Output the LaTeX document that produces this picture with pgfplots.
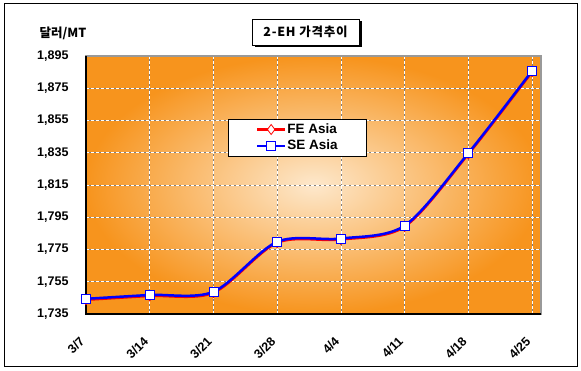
\documentclass[border=0pt]{standalone}
\usepackage{pgfplots}
\pgfplotsset{compat=1.18}
\usepackage{fontspec}
\setmainfont{Liberation Sans}
\newfontfamily\kr{Noto Sans CJK KR}
\definecolor{org}{HTML}{F7941D}
\definecolor{cream}{HTML}{FDE8CC}
\definecolor{lred}{HTML}{FF0000}
\definecolor{lblue}{HTML}{0000FF}
\begin{document}
\begin{tikzpicture}
\path[use as bounding box] (0,0) rectangle (581pt,371pt);
\fill[white] (0,0) rectangle (581pt,371pt);
\draw[black, line width=1pt] (4pt,4pt) rectangle (577pt,367pt);
\begin{axis}[
  at={(86pt,57pt)}, anchor=south west, scale only axis,
  width=455pt, height=258pt,
  xmin=0, xmax=7.14, ymin=1735, ymax=1895,
  xtick={0,...,7},
  xticklabels={3/7,3/14,3/21,3/28,4/4,4/11,4/18,4/25},
  ytick={1735,1755,...,1895},
  /pgf/number format/.cd, fixed, precision=0, 1000 sep={,}, assume math mode=true,
  /pgfplots/.cd,
  major tick length=0pt,
  ticklabel style={font=\fontsize{12.5}{14}\selectfont\bfseries},
  xticklabel style={rotate=45, anchor=east, xshift=-17pt, yshift=-15pt},
  yticklabel style={xshift=-14pt},
  grid=major,
  major grid style={gray, line width=0.8pt, postaction={draw, white, dash pattern=on 3pt off 2pt}},
  axis line style={draw=gray!80, line width=1.5pt},
  axis background/.style={shading=radial, inner color=cream, outer color=org},
  clip=false,
  legend style={at={(0.311,0.756)}, anchor=north west, draw=black, fill=white,
    line width=0.8pt, font=\fontsize{13.5}{15}\selectfont\bfseries,
    inner xsep=28pt, inner ysep=2pt, row sep=0pt,
    nodes={inner xsep=1pt, inner ysep=2.5pt}},
  legend cell align=left,
  legend image code/.code={\draw[mark repeat=2,mark phase=2] plot coordinates {(0pt,0pt) (14pt,0pt) (28pt,0pt)};},
]
\addplot[lred, line width=2.5pt, smooth, mark=diamond*, mark size=5pt,
  mark options={fill=white, draw=lred, line width=0.8pt}]
  coordinates {(0,1743.8) (1,1746.2) (2,1748.2) (3,1779.2) (4,1781.2) (5,1789.2) (6,1834.2) (7,1885.2)};
\addlegendentry{FE Asia}
\addplot[lblue, line width=2.5pt, smooth, mark=square*, mark size=4.5pt,
  mark options={fill=white, draw=lblue, line width=0.8pt}]
  coordinates {(0,1744.4) (1,1746.8) (2,1748.8) (3,1779.8) (4,1781.8) (5,1789.8) (6,1834.8) (7,1885.8)};
\addlegendentry{SE Asia}
\draw[black, line width=1.2pt] (rel axis cs:0,1) -- (rel axis cs:0,0) -- (rel axis cs:1,0);
\end{axis}
\node[font=\kr\bfseries\fontsize{12.5}{14}\selectfont] at (63pt,338pt) {달러/MT};
\fill[black] (254.5pt,324pt) rectangle (361.5pt,350pt);
\node[draw=black, fill=white, line width=0.8pt, minimum width=107pt, minimum height=26pt,
  inner sep=0pt, font=\kr\bfseries\fontsize{12.5}{14}\selectfont\addfontfeature{LetterSpace=6}] at (305.5pt,339pt) {2-EH 가격추이};
\end{tikzpicture}
\end{document}
